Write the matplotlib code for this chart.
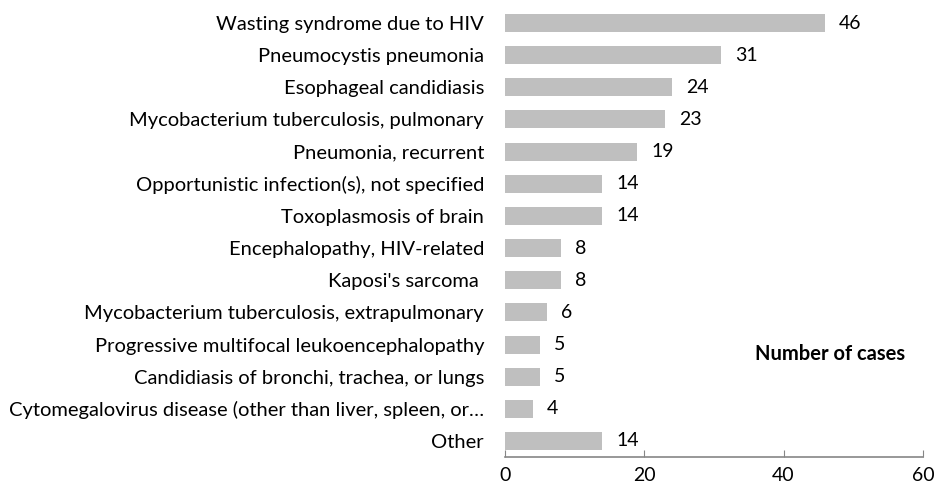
import matplotlib.pyplot as plt

plt.rcParams['font.family'] = ['Lato', 'DejaVu Sans']

# Data (top to bottom)
conditions = [
    'Wasting syndrome due to HIV',
    'Pneumocystis pneumonia',
    'Esophageal candidiasis',
    'Mycobacterium tuberculosis, pulmonary',
    'Pneumonia, recurrent',
    'Opportunistic infection(s), not specified',
    'Toxoplasmosis of brain',
    'Encephalopathy, HIV-related',
    "Kaposi's sarcoma ",
    'Mycobacterium tuberculosis, extrapulmonary',
    'Progressive multifocal leukoencephalopathy',
    'Candidiasis of bronchi, trachea, or lungs',
    'Cytomegalovirus disease (other than liver, spleen, or\u2026',
    'Other',
]
cases = [46, 31, 24, 23, 19, 14, 14, 8, 8, 6, 5, 5, 4, 14]
x_ticks = [0, 20, 40, 60]

fig = plt.figure(figsize=(9.35, 4.92), dpi=100)
ax = fig.add_axes([0.540, 0.0711, 0.447, 0.9147])

pos = list(range(len(conditions)))
ax.barh(pos, cases, height=0.56, color='#BFBFBF')
for p, v in zip(pos, cases):
    ax.annotate(str(v), (v, p), xytext=(10, 0), textcoords='offset points',
                va='center', ha='left', fontsize=14, color='black')

ax.set_ylim(len(conditions) - 0.5, -0.5)
ax.set_xlim(0, 60)
ax.set_xticks(x_ticks)
ax.set_yticks(pos)
ax.set_yticklabels(conditions, fontsize=14.5)
ax.tick_params(axis='y', length=0, pad=15)
ax.tick_params(axis='x', direction='in', length=5, color='#868686', labelsize=14, pad=7)

for s in ['top', 'right', 'left']:
    ax.spines[s].set_visible(False)
ax.spines['bottom'].set_color('#868686')
ax.spines['bottom'].set_linewidth(1.2)

ax.text(57.5, 10.3, 'Number of cases', ha='right', va='center',
        fontsize=14.5, fontweight='bold')

fig.savefig('out.png', dpi=100)
